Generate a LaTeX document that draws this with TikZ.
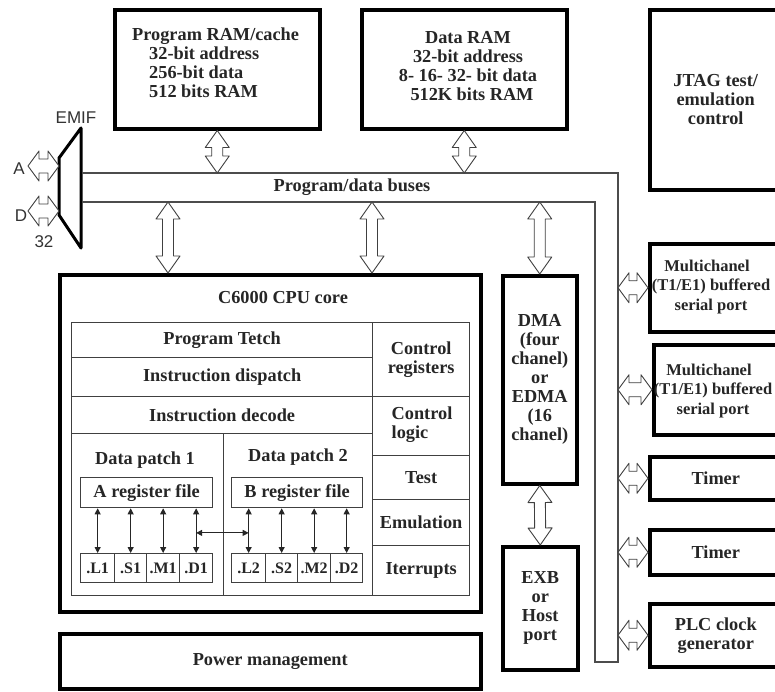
\documentclass[tikz,border=0pt]{standalone}
\usepackage{fontspec}
\setmainfont{Liberation Serif}
\newfontfamily\sansf{Liberation Sans}
\usetikzlibrary{calc,arrows.meta}
\def\ah{17pt}\def\aw{12pt}\def\as{5.5pt}
\tikzset{
  x=1pt,y=-1pt,
  txt/.style={font=\bfseries\fontsize{18.3}{19}\selectfont, text=black!85, align=center, inner sep=0pt},
  smalltxt/.style={font=\bfseries\fontsize{16}{17}\selectfont, text=black!85, inner sep=0pt},
  porttxt/.style={font=\bfseries\fontsize{16.5}{19.5}\selectfont},
  sanstxt/.style={font=\sansf\fontsize{17}{18}\selectfont, text=black!80, inner sep=0pt},
  heavy/.style={draw=black, line width=3.5pt, fill=white, txt},
  cellbox/.style={draw=black!75, line width=1.3pt, txt},
  busline/.style={draw=black!70, line width=1.3pt},
  setarr/.code n args={3}{\def\ah{#1}\def\aw{#2}\def\as{#3}},
  hollow/.style={draw=black!75, line width=0.9pt, fill=white, line join=round,
    to path={
      -- ($(\tikztostart)!\ah!(\tikztotarget)!\aw!90:(\tikztotarget)$)
      -- ($(\tikztostart)!\ah!(\tikztotarget)!\as!90:(\tikztotarget)$)
      -- ($(\tikztotarget)!\ah!(\tikztostart)!\as!-90:(\tikztostart)$)
      -- ($(\tikztotarget)!\ah!(\tikztostart)!\aw!-90:(\tikztostart)$)
      -- (\tikztotarget)
      -- ($(\tikztotarget)!\ah!(\tikztostart)!\aw!90:(\tikztostart)$)
      -- ($(\tikztotarget)!\ah!(\tikztostart)!\as!90:(\tikztostart)$)
      -- ($(\tikztostart)!\ah!(\tikztotarget)!\as!-90:(\tikztotarget)$)
      -- ($(\tikztostart)!\ah!(\tikztotarget)!\aw!-90:(\tikztotarget)$)
      -- cycle}},
  bigarr/.style={hollow, setarr={17pt}{12pt}{5.5pt}},
  sidearr/.style={hollow, setarr={11pt}{15pt}{7pt}},
  regarr/.style={{Triangle[length=6pt,width=6pt]}-{Triangle[length=6pt,width=6pt]}, line width=1pt, draw=black!85},
}
\newcommand\mkbox[7]{\node[#1, anchor=north west, minimum width={(#5)-(#3)}, minimum height={(#6)-(#4)}] (#2) at (#3,#4) {#7};}
\begin{document}
\begin{tikzpicture}
\useasboundingbox[fill=white] (0,0) rectangle (775,691);

% memories
\mkbox{heavy}{prog}{113}{8}{318}{127}{}
\node[txt, align=left, anchor=north west] (progt) at (132,28) {Program RAM/cache\\\hspace*{17pt}32-bit address\\\hspace*{17pt}256-bit data\\\hspace*{17pt}512 bits RAM};
\mkbox{heavy}{dram}{360}{8}{565}{127}{}
\node[txt] (dramt) at (468,66) {Data RAM\\32-bit address\\8- 16- 32- bit data\\\hspace*{8pt}512K bits RAM};
\mkbox{heavy}{jtag}{648}{8}{780}{188}{JTAG test/\\emulation\\control}

% EMIF
\draw[line width=3pt, line join=round] (59,158) -- (81,128) -- (81,248) -- (59,215) -- cycle;
\node[sanstxt] (emif) at (76,118) {EMIF};
\node[sanstxt] (la) at (19,169) {A};
\node[sanstxt] (ld) at (21,216) {D};
\node[sanstxt] (l32) at (44,242) {32};
\coordinate (ea) at (59,166);
\coordinate (ed) at (59,211);
\draw[sidearr] (28,166) to (ea);
\draw[sidearr] (28,211) to (ed);

% buses
\coordinate (tb) at (82,173);
\coordinate (bb) at (82,202);
\coordinate (rb) at (618,173);
\draw[busline] (tb) -- (618,173) -- (618,662) -- (595,662) -- (595,202) -- (bb);
\node[txt] (bust) at (352,187) {Program/data buses};

% right peripherals
\mkbox{heavy}{mc1}{648}{242}{780}{330}{}
\node[txt, porttxt] (mc1t) at (711,287) {\hspace*{-8pt}Multichanel\\(T1/E1) buffered\\serial port};
\mkbox{heavy}{mc2}{652}{343}{780}{433}{}
\node[txt, porttxt] (mc2t) at (713,391) {\hspace*{-8pt}Multichanel\\(T1/E1) buffered\\serial port};
\mkbox{heavy}{tim1}{648}{455}{780}{498}{Timer}
\mkbox{heavy}{tim2}{648}{528}{780}{573}{Timer}
\mkbox{heavy}{plc}{648}{602}{780}{665}{PLC clock\\generator}
\foreach \b in {mc1,mc2,tim1,tim2,plc}{
  \draw[sidearr] (\b.west -| rb) to (\b.west);
}

% DMA / EXB
\mkbox{heavy}{dma}{501}{274}{575}{482}{DMA\\(four\\chanel)\\or\\EDMA\\(16\\chanel)}
\mkbox{heavy}{exb}{501}{545}{576}{668}{EXB\\or\\Host\\port}

% CPU
\mkbox{heavy}{cpu}{58}{273}{479}{610}{}
\node[txt] (cput) at (283,297) {C6000 CPU core};
\mkbox{cellbox}{pf}{71}{322}{372}{357}{Program Tetch}
\mkbox{cellbox}{idisp}{71}{357}{372}{396}{Instruction dispatch}
\mkbox{cellbox}{idec}{71}{396}{372}{433}{Instruction decode}
\mkbox{cellbox}{dp1}{71}{433}{223}{595}{}
\mkbox{cellbox}{dp2}{223}{433}{372}{595}{}
\mkbox{cellbox}{creg}{372}{322}{469}{396}{Control\\registers}
\mkbox{cellbox}{clog}{372}{396}{469}{455}{}
\node[txt, align=left] at (422,425) {Control\\logic};
\mkbox{cellbox}{test}{372}{455}{469}{499}{Test}
\mkbox{cellbox}{emu}{372}{499}{469}{545}{Emulation}
\mkbox{cellbox}{irq}{372}{545}{469}{595}{Iterrupts}
\node[txt] (dp1t) at (145,460) {Data patch 1};
\node[txt] (dp2t) at (298,457) {Data patch 2};
\mkbox{cellbox}{ra}{80}{477}{212}{507}{A register file}
\mkbox{cellbox}{rb}{231}{477}{362}{507}{B register file}
\mkbox{cellbox,smalltxt}{u1}{80}{553}{114}{582}{.L1}
\mkbox{cellbox,smalltxt}{u2}{114}{553}{146}{582}{.S1}
\mkbox{cellbox,smalltxt}{u3}{146}{553}{179}{582}{.M1}
\mkbox{cellbox,smalltxt}{u4}{179}{553}{212}{582}{.D1}
\mkbox{cellbox,smalltxt}{v1}{231}{553}{265}{582}{.L2}
\mkbox{cellbox,smalltxt}{v2}{265}{553}{297}{582}{.S2}
\mkbox{cellbox,smalltxt}{v3}{297}{553}{330}{582}{.M2}
\mkbox{cellbox,smalltxt}{v4}{330}{553}{362}{582}{.D2}
\foreach \u in {u1,u2,u3,u4}{
  \draw[regarr] (\u.north |- ra.south) -- (\u.north);
}
\foreach \u in {v1,v2,v3,v4}{
  \draw[regarr] (\u.north |- rb.south) -- (\u.north);
}
\coordinate (h1) at ($(u4.north)!0.45!(u4.north |- ra.south)$);
\draw[regarr] (h1) -- (h1 -| v1.north);

% bus connections
\coordinate (k1) at (168,202);
\coordinate (k2) at (372,202);
\draw[bigarr] (prog.south) to (prog.south |- tb);
\draw[bigarr] (dram.south) to (dram.south |- tb);
\draw[bigarr] (k1) to (k1 |- cpu.north);
\draw[bigarr] (k2) to (k2 |- cpu.north);
\draw[bigarr] (dma.north |- bb) to (dma.north);
\draw[bigarr] (dma.south) to (exb.north);

% power
\mkbox{heavy}{pwr}{58}{632}{479}{687}{Power management}
\end{tikzpicture}
\end{document}
